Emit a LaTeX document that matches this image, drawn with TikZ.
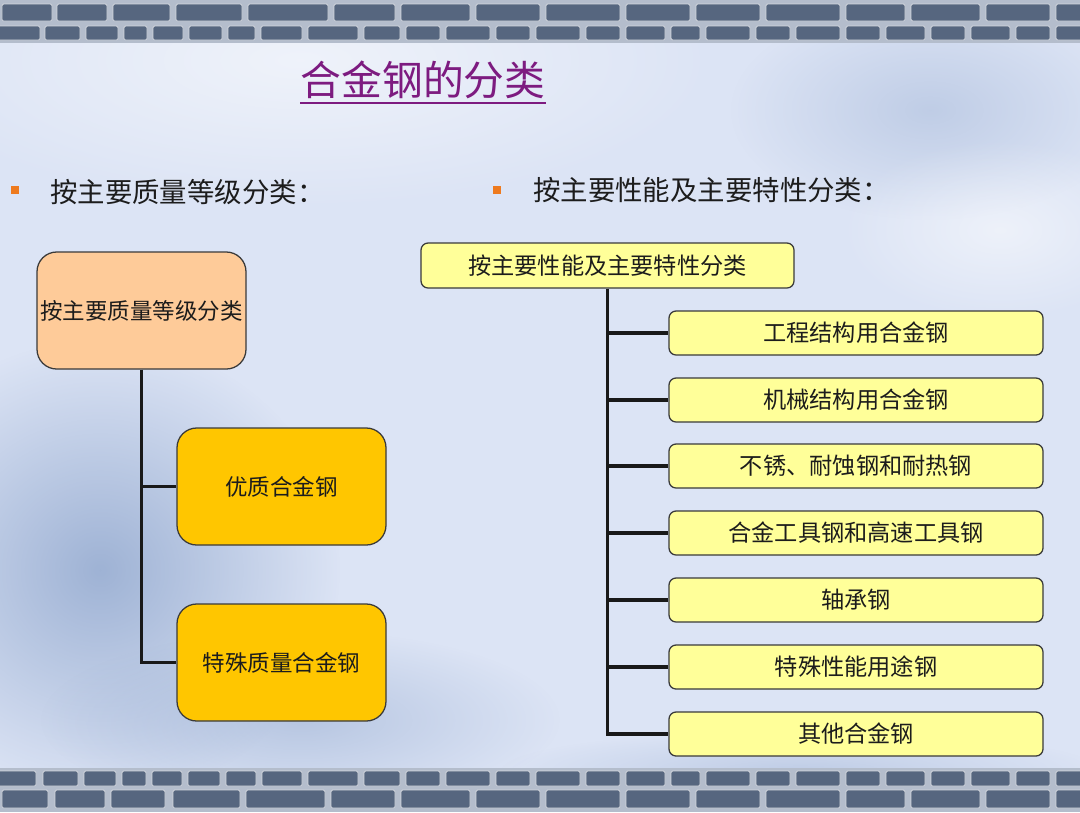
\documentclass[tikz,border=0pt]{standalone}
\usepackage{fontspec}
\setmainfont{Noto Sans CJK SC}
\usetikzlibrary{fadings}
\tikzfading[name=softblob, inner color=transparent!0, outer color=transparent!100]
\definecolor{bgblue}{HTML}{DCE4F5}
\definecolor{bgdark}{HTML}{8AA2CA}
\definecolor{mortar}{HTML}{B4BDCC}
\definecolor{brick}{HTML}{56667F}
\definecolor{peach}{HTML}{FECB99}
\definecolor{gold}{HTML}{FFC600}
\definecolor{lyellow}{HTML}{FFFF99}
\definecolor{ttl}{HTML}{7D1B80}
\definecolor{bul}{HTML}{EE7A1E}
\definecolor{txt}{HTML}{1C1C1C}
\definecolor{edge}{HTML}{3A3A3A}
\tikzset{
  bigbox/.style={draw=edge, line width=0.9pt, rounded corners=14pt, inner sep=0pt,
    minimum width={209*0.025cm}, minimum height={117*0.025cm}, text=txt,
    font=\fontsize{16}{19}\selectfont},
  rbox/.style={draw=edge, line width=0.9pt, rounded corners=5pt, fill=lyellow, inner sep=0pt,
    minimum width={374*0.025cm}, minimum height={44*0.025cm}, text=txt,
    font=\fontsize{16.5}{19}\selectfont},
  conn/.style={line width=2.2pt, draw=black!90},
  brk/.style={fill=brick, draw=white!75!brick, line width=0.6pt, rounded corners=1pt},
  bullet/.style={fill=bul, minimum size={8*0.025cm}, inner sep=0pt},
  heading/.style={text=txt, font=\fontsize{19.5}{22}\selectfont, anchor=west, inner sep=0pt},
  blob/.style={path fading=softblob}
}
\begin{document}
\begin{tikzpicture}[x=0.025cm,y=-0.025cm]
\useasboundingbox (0,0) rectangle (1080,812);
% background
\fill[bgblue] (0,0) rectangle (1080,812);
\fill[white, opacity=0.55, blob] (300,60) ellipse (420 and 150);
\fill[bgdark, opacity=0.75, blob] (100,570) ellipse (240 and 230);
\fill[bgdark, opacity=0.45, blob] (300,720) ellipse (260 and 90);
\fill[bgdark, opacity=0.35, blob] (930,110) ellipse (200 and 110);
\fill[white, opacity=0.5, blob] (1000,230) ellipse (160 and 90);
\fill[bgdark, opacity=0.35, blob] (800,770) ellipse (300 and 40);
% brick bands
\fill[mortar] (0,0) rectangle (1080,43);
\fill[mortar] (0,768) rectangle (1080,812);
\foreach \a/\b in {2/52,57/107,113/170,176/242,248/328,334/395,401/470,476/540,546/620,626/690,696/760,766/840,846/905,911/980,986/1050,1056/1082}
  \path[brk] (\a,4) rectangle (\b,21);
\foreach \a/\b in {-2/40,45/80,86/118,124/147,153/183,189/222,228/255,261/302,308/358,364/400,406/440,446/490,496/530,536/580,586/620,626/665,671/700,706/750,756/790,796/840,846/880,886/925,931/965,971/1010,1016/1050,1056/1082}
  \path[brk] (\a,26) rectangle (\b,40);
\foreach \a/\b in {-2/36,43/78,84/116,122/146,152/182,188/220,226/256,262/302,308/358,364/400,406/440,446/490,496/530,536/580,586/620,626/665,671/700,706/750,756/790,796/840,846/880,886/925,931/965,971/1010,1016/1050,1056/1082}
  \path[brk] (\a,771) rectangle (\b,786);
\foreach \a/\b in {2/48,55/105,111/165,173/240,246/325,331/395,401/470,476/540,546/620,626/690,696/760,766/840,846/905,911/980,986/1050,1056/1082}
  \path[brk] (\a,790) rectangle (\b,808);
% title
\node[text=ttl, font=\fontsize{29}{32}\selectfont, inner sep=0pt] (t) at (423,80) {合金钢的分类};
\draw[ttl, line width=1.6pt] ([yshift=-2.5pt]t.south west) -- ([yshift=-2.5pt]t.south east);
% headings
\node[bullet] (bl) at (15,190) {};
\node[heading] (hl) at (50,192) {按主要质量等级分类：};
\node[bullet] (br) at (497,190) {};
\node[heading] (hr) at (533,190) {按主要性能及主要特性分类：};
% left tree
\node[bigbox, fill=peach] (L0) at (141.5,310.5) {按主要质量等级分类};
\node[bigbox, fill=gold] (L1) at (281.5,486.5) {优质合金钢};
\node[bigbox, fill=gold] (L2) at (281.5,662.5) {特殊质量合金钢};
\draw[conn] (L0.south) -- (L0.south |- L2.west) -- (L2.west);
\draw[conn] (L0.south |- L1.west) -- (L1.west);
% right tree
\node[rbox, minimum width={373*0.025cm}, minimum height={45*0.025cm}] (R0) at (607.5,265.5) {按主要性能及主要特性分类};
\node[rbox] (R1) at (856,333) {工程结构用合金钢};
\node[rbox] (R2) at (856,400) {机械结构用合金钢};
\node[rbox] (R3) at (856,466) {不锈、耐蚀钢和耐热钢};
\node[rbox] (R4) at (856,533) {合金工具钢和高速工具钢};
\node[rbox] (R5) at (856,600) {轴承钢};
\node[rbox] (R6) at (856,667) {特殊性能用途钢};
\node[rbox] (R7) at (856,734) {其他合金钢};
\draw[conn] (R0.south) -- (R0.south |- R7.west) -- (R7.west);
\foreach \i in {1,...,6}
  \draw[conn] (R0.south |- R\i.west) -- (R\i.west);
\end{tikzpicture}
\end{document}
